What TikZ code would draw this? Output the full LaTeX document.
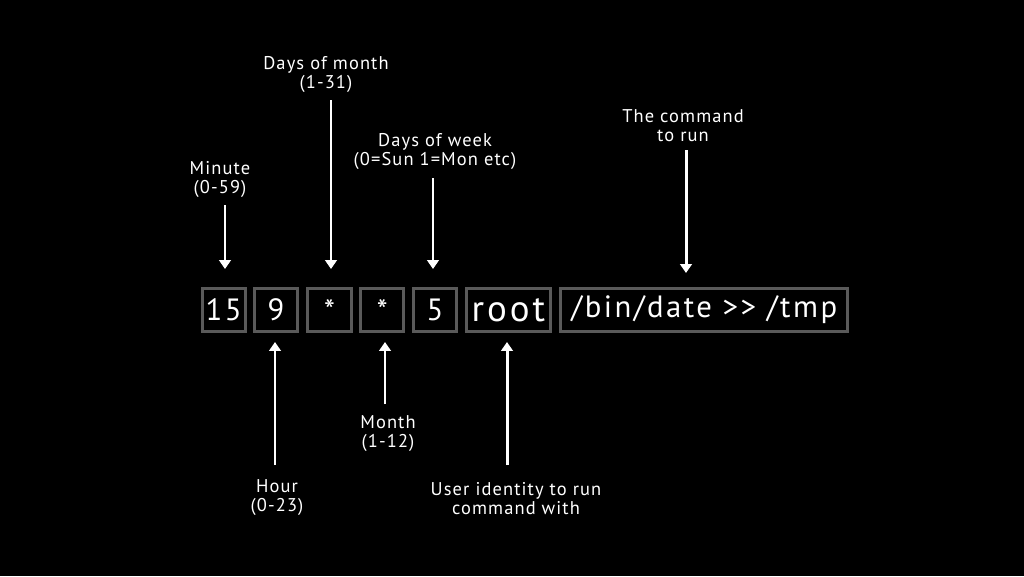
\documentclass[tikz,border=0pt]{standalone}
\usepackage{fontspec}
\setmainfont{PT Sans}
\newfontfamily\spacedfont[LetterSpace=6]{PT Sans}
\newfontfamily\widefont[LetterSpace=8]{PT Sans}
\usetikzlibrary{arrows.meta}
\definecolor{boxgray}{HTML}{5A5A5A}
\tikzset{
  field/.style={draw=boxgray,line width=1.7pt,text=white,minimum height=0.854cm,inner sep=0pt,font=\widefont\fontsize{17.5}{20}\selectfont},
  note/.style={text=white,align=center,font=\spacedfont\fontsize{10.5}{10.8}\selectfont,inner sep=0pt},
  pointer/.style={draw=white,line width=1.7pt,-{Triangle[width=6.5pt,length=5pt]}}
}
\begin{document}
\begin{tikzpicture}[x=0.02cm,y=-0.02cm]
  \fill[black] (0,0) rectangle (1024,576);
  % fields of the line
  \node[field,minimum width=0.86cm] (min) at (223.7,310) {15};
  \node[field,minimum width=0.87cm] (hour) at (276,310) {9};
  \node[field,minimum width=0.87cm] (dom) at (329.4,310) {*};
  \node[field,minimum width=0.86cm] (mon) at (382.2,310) {*};
  \node[field,minimum width=0.86cm] (dow) at (435,310) {5};
  \node[field,minimum width=1.68cm,font=\widefont\fontsize{21}{24}\selectfont] (user) at (508.4,310) {root};
  \node[field,minimum width=5.74cm] (cmd) at (704.3,310) {/bin/date >{}> /tmp};
  % notes above
  \node[note] (minnote) at (220,179.5) {Minute\\(0-59)};
  \node[note] (domnote) at (326,74.5) {Days of month\\(1-31)};
  \node[note] (downote) at (435,151.5) {Days of week\\(0=Sun 1=Mon etc)};
  \node[note] (cmdnote) at (683,126) {The command\\to run};
  % notes below
  \node[note] (hournote) at (277,498) {Hour\\(0-23)};
  \node[note] (monnote) at (388,433.5) {Month\\(1-12)};
  \node[note] (usernote) at (516,499) {User identity to run\\command with};
  % arrow ends
  \coordinate (a1) at (225,205); \coordinate (b1) at (225,269);
  \coordinate (a2) at (331,100); \coordinate (b2) at (331,269);
  \coordinate (a3) at (433,178); \coordinate (b3) at (433,269);
  \coordinate (a4) at (686,150); \coordinate (b4) at (686,273);
  \coordinate (a5) at (275,465); \coordinate (b5) at (275,342);
  \coordinate (a6) at (385,404); \coordinate (b6) at (385,342);
  \coordinate (a7) at (507,465); \coordinate (b7) at (507,342);
  \draw[pointer] (a1) -- (b1);
  \draw[pointer] (a2) -- (b2);
  \draw[pointer] (a3) -- (b3);
  \draw[pointer] (a4) -- (b4);
  \draw[pointer] (a5) -- (b5);
  \draw[pointer] (a6) -- (b6);
  \draw[pointer] (a7) -- (b7);
\end{tikzpicture}
\end{document}
